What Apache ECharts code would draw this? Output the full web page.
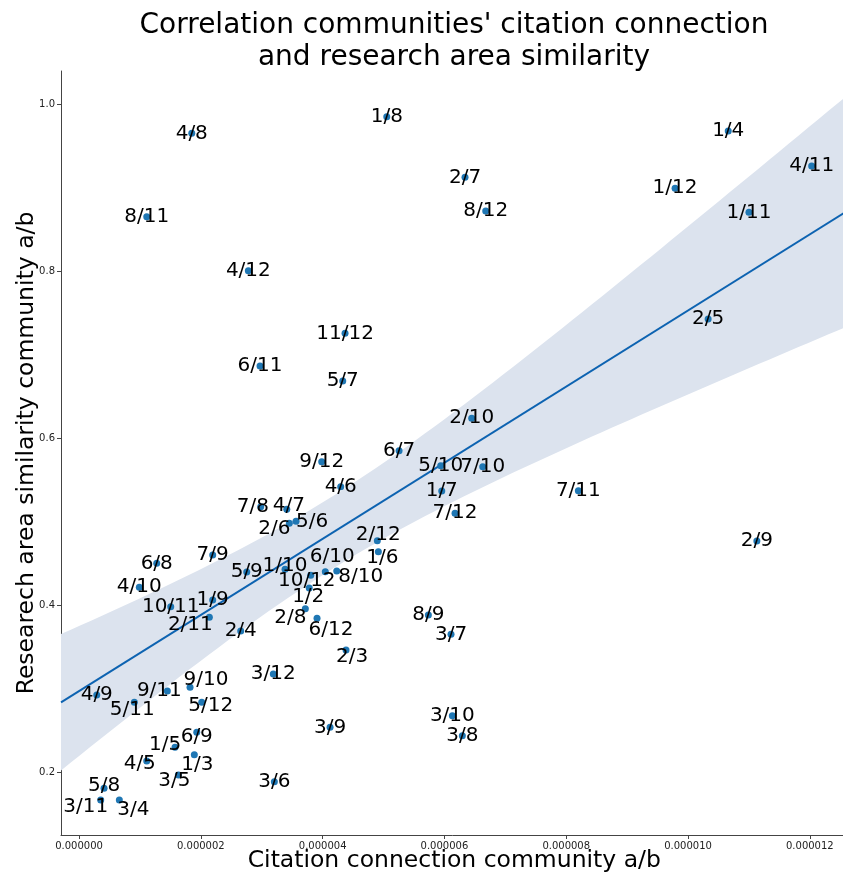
<!DOCTYPE html>
<html>
<head>
<meta charset="utf-8">
<script src="https://cdn.jsdelivr.net/npm/echarts@6/dist/echarts.min.js"></script>
<style>
  html, body { margin: 0; padding: 0; background: #fff; }
  #scatter_chart { width: 843px; height: 876px; }
</style>
</head>
<body>
<div id="scatter_chart"></div>
<script>
// community pairs a/b
const pairNames = [
  '1/2', '1/3', '1/4', '1/5', '1/6', '1/7', '1/8', '1/9', '1/10', '1/11', '1/12',
  '2/3', '2/4', '2/5', '2/6', '2/7', '2/8', '2/9', '2/10', '2/11', '2/12',
  '3/4', '3/5', '3/6', '3/7', '3/8', '3/9', '3/10', '3/11', '3/12',
  '4/5', '4/6', '4/7', '4/8', '4/9', '4/10', '4/11', '4/12',
  '5/6', '5/7', '5/8', '5/9', '5/10', '5/11', '5/12',
  '6/7', '6/8', '6/9', '6/10', '6/11', '6/12',
  '7/8', '7/9', '7/10', '7/11', '7/12',
  '8/9', '8/10', '8/11', '8/12',
  '9/10', '9/11', '9/12',
  '10/11', '10/12',
  '11/12'
];
// citation connection (unit: 1e-6)
const citationValues = [
  3.78, 1.893, 10.66, 1.576, 4.915, 5.956, 5.053, 2.195, 3.383, 11.00, 9.787,
  4.384, 2.655, 10.33, 3.453, 6.338, 3.716, 11.13, 6.448, 2.140, 4.898,
  0.662, 1.631, 3.207, 6.108, 6.294, 4.122, 6.130, 0.356, 3.190,
  1.112, 4.297, 3.411, 1.851, 0.291, 0.990, 12.03, 2.780,
  3.563, 4.330, 0.411, 2.754, 5.939, 0.908, 2.015,
  5.255, 1.276, 1.933, 4.044, 2.972, 3.908,
  2.984, 2.195, 6.629, 8.199, 6.174,
  5.736, 4.232, 1.112, 6.678,
  1.823, 1.450, 3.985,
  1.506, 3.805,
  4.368
];
// research area similarity
const similarityValues = [
  0.421, 0.2215, 0.968, 0.2304, 0.4645, 0.5372, 0.985, 0.4067, 0.4434, 0.8707, 0.8995,
  0.3469, 0.3696, 0.743, 0.4985, 0.9126, 0.3963, 0.4773, 0.6242, 0.386, 0.4777,
  0.1673, 0.1972, 0.1892, 0.3656, 0.2443, 0.2543, 0.2682, 0.1673, 0.3181,
  0.214, 0.5423, 0.5153, 0.9653, 0.293, 0.4219, 0.9262, 0.8008,
  0.5009, 0.6688, 0.1813, 0.4402, 0.5674, 0.2843, 0.2843,
  0.5854, 0.4506, 0.2484, 0.4406, 0.6868, 0.3848,
  0.5184, 0.4606, 0.5662, 0.5375, 0.5105,
  0.3887, 0.4414, 0.8655, 0.8723,
  0.3022, 0.2978, 0.5722,
  0.3987, 0.4363,
  0.7259
];
// tick labels
const xTickValues = [0, 2, 4, 6, 8, 10, 12];
const yTickValues = [0.2, 0.4, 0.6, 0.8, 1.0];

// labels pushed away from their dot (px)
const labelShift = {
  '7/8': [-8, 0], '4/7': [2, -3], '2/6': [-15, 5], '5/6': [16, 1], '2/12': [1, -6], '1/6': [4, 6],
  '1/10': [0, -4], '6/10': [7, -15], '8/10': [24, 6], '10/12': [-4, 6], '1/2': [-1, 9],
  '2/8': [-15, 9], '6/12': [14, 12], '2/11': [-19, 8], '9/11': [-8, 0], '9/10': [16, -7],
  '5/11': [-2, 8], '5/12': [9, 4], '6/9': [0, 5], '1/5': [-10, -2], '1/3': [3, 10],
  '4/5': [-7, 3], '3/5': [-4, 6], '5/8': [0, -3], '3/11': [-15, 7], '3/4': [14, 10], '2/3': [6, 7]
};

const xMin = -0.296, xMax = 12.62;
const yMin = 0.1254, yMax = 1.0399;
const font = 'DejaVu Sans';

// 线性回归 + 95% 置信带
const n = citationValues.length;
const mx = citationValues.reduce((a, b) => a + b, 0) / n;
const my = similarityValues.reduce((a, b) => a + b, 0) / n;
let sxx = 0, sxy = 0;
citationValues.forEach((x, i) => {
  sxx += (x - mx) * (x - mx);
  sxy += (x - mx) * (similarityValues[i] - my);
});
const slope = sxy / sxx;
const icpt = my - slope * mx;
let sse = 0;
citationValues.forEach((x, i) => {
  const r = similarityValues[i] - (icpt + slope * x);
  sse += r * r;
});
const s = Math.sqrt(sse / (n - 2));
const tVal = 1.9;
const upper = [], lower = [];
for (let k = 0; k <= 80; k++) {
  const x = xMin + (xMax - xMin) * k / 80;
  const yh = icpt + slope * x;
  const h = tVal * s * Math.sqrt(1 / n + (x - mx) * (x - mx) / sxx);
  upper.push([x, yh + h]);
  lower.push([x, yh - h]);
}

const chart = echarts.init(document.getElementById('scatter_chart'));
const option = {
  animation: false,
  graphic: [{
    type: 'text',
    x: 454,
    y: 10,
    style: {
      text: "Correlation communities' citation connection\nand research area similarity",
      font: '28px "DejaVu Sans"',
      fill: '#000',
      textAlign: 'center',
      lineHeight: 32
    }
  }],
  grid: { left: 61, top: 71, width: 786.6, height: 764, outerBoundsMode: 'none', containLabel: false },
  xAxis: {
    type: 'value',
    min: xMin,
    max: xMax,
    name: 'Citation connection community a/b',
    nameLocation: 'middle',
    nameGap: 14,
    nameMoveOverlap: false,
    nameTextStyle: { fontFamily: font, fontSize: 23.5, color: '#000', verticalAlign: 'top' },
    axisLine: { show: true, onZero: false, lineStyle: { color: '#444', width: 1 } },
    axisTick: { show: true, length: 4, customValues: xTickValues, lineStyle: { color: '#444' } },
    axisLabel: {
      customValues: xTickValues,
      formatter: v => (v * 1e-6).toFixed(6),
      fontFamily: font, fontSize: 10, color: '#222', margin: 6
    },
    splitLine: { show: false }
  },
  yAxis: {
    type: 'value',
    min: yMin,
    max: yMax,
    name: 'Researech area similarity community a/b',
    nameLocation: 'middle',
    nameGap: 22,
    nameMoveOverlap: false,
    nameTextStyle: { fontFamily: font, fontSize: 23.5, color: '#000' },
    axisLine: { show: true, onZero: false, lineStyle: { color: '#444', width: 1 } },
    axisTick: { show: true, length: 4, customValues: yTickValues, lineStyle: { color: '#444' } },
    axisLabel: {
      customValues: yTickValues,
      formatter: v => v.toFixed(1),
      fontFamily: font, fontSize: 10, color: '#222', margin: 6
    },
    splitLine: { show: false }
  },
  series: [
    {
      // 置信带
      type: 'custom',
      silent: true,
      z: 1,
      data: [[mx, my]],
      renderItem: (params, api) => {
        const pts = upper.map(p => api.coord(p))
          .concat(lower.slice().reverse().map(p => api.coord(p)));
        return { type: 'polygon', shape: { points: pts }, style: { fill: '#dce3ee' } };
      }
    },
    {
      // 回归线
      type: 'line',
      silent: true,
      z: 2,
      symbol: 'none',
      lineStyle: { color: '#0d63b1', width: 2 },
      data: [[xMin, icpt + slope * xMin], [xMax, icpt + slope * xMax]]
    },
    {
      type: 'scatter',
      z: 3,
      symbolSize: 7,
      itemStyle: { color: '#1f77b4', opacity: 1 },
      label: {
        show: true,
        position: 'inside',
        formatter: '{b}',
        color: '#000',
        opacity: 1,
        textBorderWidth: 0,
        fontFamily: font,
        fontSize: 20
      },
      data: pairNames.map((name, i) => ({
        name: name,
        value: [citationValues[i], similarityValues[i]],
        label: { offset: labelShift[name] || [0, 0] }
      }))
    }
  ]
};
chart.setOption(option);
</script>
</body>
</html>
